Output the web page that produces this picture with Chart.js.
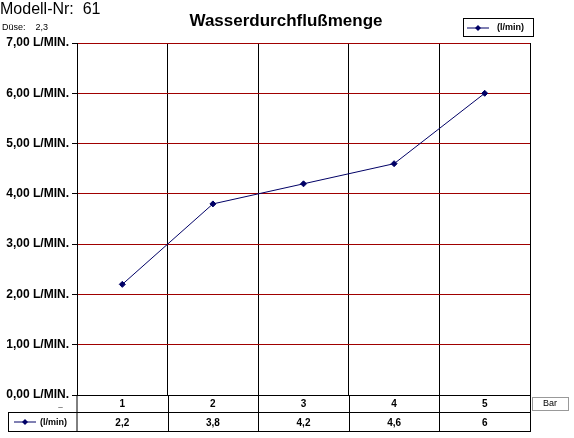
<!DOCTYPE html>
<html>
<head>
<meta charset="utf-8">
<script src="https://cdn.jsdelivr.net/npm/chart.js@4"></script>
<style>body{margin:0;background:#fff}</style>
</head>
<body>
<canvas id="c" width="574" height="438"></canvas>
<script>
const categories = ['1', '2', '3', '4', '5'];
const values = [2.2, 3.8, 4.2, 4.6, 6];
const valueLabels = ['2,2', '3,8', '4,2', '4,6', '6'];
const seriesName = '(l/min)';
const LINE = '#000066';

// legend key: line with a diamond
function key(ctx, x, y) {
  ctx.save();
  ctx.strokeStyle = LINE; ctx.fillStyle = LINE; ctx.lineWidth = 1;
  ctx.beginPath(); ctx.moveTo(x, y); ctx.lineTo(x + 22, y); ctx.stroke();
  ctx.beginPath(); ctx.moveTo(x + 11, y - 3); ctx.lineTo(x + 14, y); ctx.lineTo(x + 11, y + 3); ctx.lineTo(x + 8, y); ctx.closePath(); ctx.fill();
  ctx.restore();
}

const extras = {
  id: 'extras',
  afterDraw(chart) {
    const ctx = chart.ctx, a = chart.chartArea, xs = chart.scales.x;
    ctx.save();
    ctx.fillStyle = '#000';
    ctx.textBaseline = 'alphabetic';
    ctx.font = '16px Arial, "Liberation Sans"';
    ctx.fillText('Modell-Nr:  61', 0, 14);
    ctx.font = '9px Arial, "Liberation Sans"';
    ctx.fillText('Düse:    2,3', 2, 30);
    ctx.font = 'bold 17px Arial, "Liberation Sans"';
    ctx.textAlign = 'center';
    ctx.fillText('Wasserdurchflußmenge', 286, 26);

    // legend box
    ctx.strokeStyle = '#000'; ctx.lineWidth = 1;
    ctx.strokeRect(463.5, 18.5, 70, 18);
    key(ctx, 467, 28);
    ctx.font = 'bold 9px Arial, "Liberation Sans"';
    ctx.textAlign = 'left'; ctx.textBaseline = 'middle';
    ctx.fillText(seriesName, 497, 28);

    // data table
    const r1 = a.bottom, r2 = a.bottom + 17, r3 = a.bottom + 37;
    ctx.strokeStyle = '#000';
    ctx.beginPath();
    ctx.moveTo(a.left, r1); ctx.lineTo(a.left, r3);
    ctx.moveTo(8, r2 + 0.5); ctx.lineTo(a.right, r2 + 0.5);
    ctx.moveTo(8, r3 - 0.5); ctx.lineTo(a.right, r3 - 0.5);
    ctx.moveTo(8.5, r2); ctx.lineTo(8.5, r3);
    const w = (a.right - a.left) / categories.length;
    for (let i = 1; i <= categories.length; i++) {
      const x = Math.round(a.left + i * w) + 0.5;
      ctx.moveTo(x, r1); ctx.lineTo(x, r3);
    }
    ctx.stroke();
    ctx.font = 'bold 10px Arial, "Liberation Sans"';
    ctx.textAlign = 'center';
    categories.forEach((c, i) => {
      const x = xs.getPixelForValue(i);
      ctx.fillText(c, x, (r1 + r2) / 2 + 1);
      ctx.fillText(valueLabels[i], x, (r2 + r3) / 2 + 1);
    });
    key(ctx, 14, (r2 + r3) / 2);
    ctx.textAlign = 'left';
    ctx.font = 'bold 9px Arial, "Liberation Sans"';
    ctx.fillText(seriesName, 40, (r2 + r3) / 2 + 1);
    ctx.fillStyle = '#888';
    ctx.fillText('–', 58, r1 + 13);
    // Bar box
    ctx.strokeStyle = '#999';
    ctx.strokeRect(532.5, 397.5, 36, 13);
    ctx.fillStyle = '#000';
    ctx.font = '9px Arial, "Liberation Sans"';
    ctx.textAlign = 'center';
    ctx.fillText('Bar', 550, 404);
    ctx.restore();
  }
};

new Chart(document.getElementById('c'), {
  type: 'line',
  data: {
    labels: categories,
    datasets: [{
      label: seriesName,
      data: values,
      borderColor: LINE,
      backgroundColor: LINE,
      borderWidth: 1,
      pointStyle: 'rectRot',
      pointRadius: 3,
      tension: 0
    }]
  },
  options: {
    responsive: false,
    animation: false,
    layout: { padding: { top: 43, right: 44, bottom: 43, left: 0 } },
    plugins: { legend: { display: false }, tooltip: { enabled: false } },
    scales: {
      x: {
        offset: true,
        display: true,
        grid: { offset: true, color: '#000', drawTicks: false },
        border: { color: '#000' },
        ticks: { display: false }
      },
      y: {
        min: 0, max: 7,
        afterFit(s) { s.width = 77; },
        grid: { color: '#a00000', tickColor: '#000', tickLength: 5 },
        border: { color: '#000' },
        ticks: {
          stepSize: 1,
          color: '#000',
          font: { family: 'Arial, "Liberation Sans"', size: 12, weight: 'bold' },
          callback: v => v.toFixed(2).replace('.', ',') + ' L/MIN.'
        }
      }
    }
  },
  plugins: [extras]
});
</script>
</body>
</html>
